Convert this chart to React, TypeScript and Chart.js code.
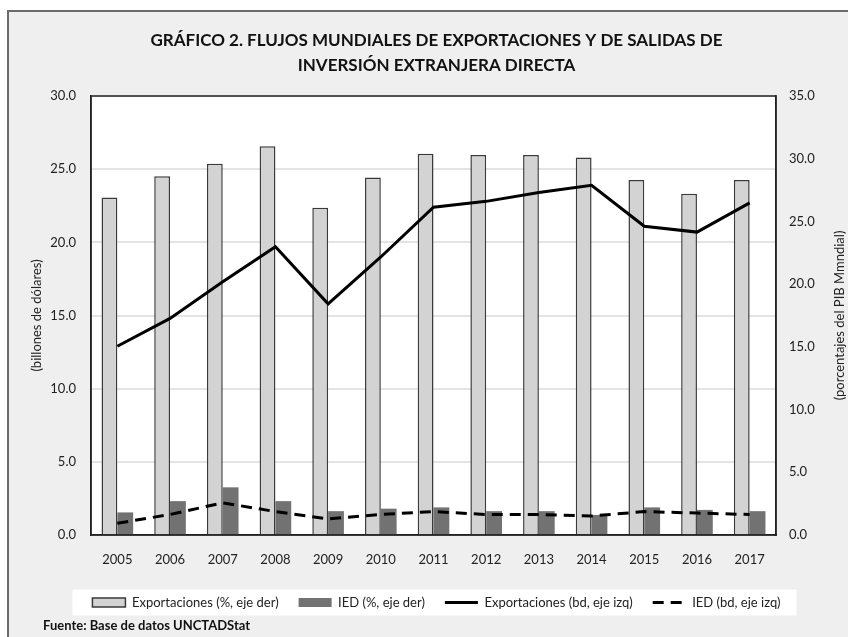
import React, { useEffect, useRef } from "react";
import { Chart, registerables } from "chart.js";

Chart.register(...registerables);

// ---- data ----
const years = ["2005", "2006", "2007", "2008", "2009", "2010", "2011", "2012", "2013", "2014", "2015", "2016", "2017"];
const exportPct = [26.9, 28.6, 29.6, 31.0, 26.1, 28.5, 30.4, 30.3, 30.3, 30.1, 28.3, 27.2, 28.3];
const fdiPct = [1.8, 2.7, 3.8, 2.7, 1.9, 2.1, 2.2, 1.9, 1.9, 1.6, 2.2, 2.0, 1.9];
const exportBn = [12.9, 14.8, 17.3, 19.7, 15.8, 19.0, 22.4, 22.8, 23.4, 23.9, 21.1, 20.7, 22.7];
const fdiBn = [0.8, 1.4, 2.2, 1.6, 1.1, 1.4, 1.6, 1.4, 1.4, 1.3, 1.6, 1.5, 1.4];

const leftMax = 30;
const rightMax = 35;
const tickStep = 5;

const seriesLabels = [
  "Exportaciones (%, eje der)",
  "IED (%, eje der)",
  "Exportaciones (bd, eje izq)",
  "IED (bd, eje izq)",
];
const titleLines = [
  "GRÁFICO 2. FLUJOS MUNDIALES DE EXPORTACIONES Y DE SALIDAS DE",
  "INVERSIÓN EXTRANJERA DIRECTA",
];
const leftTitle = "(billones de dólares)";
const rightTitle = "(porcentajes del PIB Mmndial)";
const sourceText = "Fuente: Base de datos UNCTADStat";

const FONT = "Lato, 'Open Sans', 'DejaVu Sans', sans-serif";
const TEXT = "#222";

export default function App() {
  const ref = useRef<HTMLCanvasElement>(null);

  useEffect(() => {
    if (!ref.current) return;

    const deco = {
      id: "deco",
      beforeDraw(chart: any) {
        const { ctx, chartArea } = chart;
        ctx.save();
        ctx.fillStyle = "#ffffff";
        ctx.fillRect(chartArea.left, chartArea.top, chartArea.right - chartArea.left, chartArea.bottom - chartArea.top);
        const boxes = chart.legend && chart.legend.legendHitBoxes;
        if (boxes && boxes.length) {
          const l = Math.min(...boxes.map((b: any) => b.left)) - 20;
          const r = Math.max(...boxes.map((b: any) => b.left + b.width)) + 16;
          const cy = boxes[0].top + boxes[0].height / 2;
          ctx.fillRect(l, cy - 13, r - l, 26);
        }
        ctx.restore();
      },
      afterDraw(chart: any) {
        const { ctx, chartArea, scales } = chart;
        ctx.save();
        ctx.strokeStyle = "#222";
        ctx.lineWidth = 1.5;
        ctx.strokeRect(chartArea.left, chartArea.top, chartArea.right - chartArea.left, chartArea.bottom - chartArea.top);
        ctx.restore();

        ctx.save();
        const y1 = scales.y1;
        ctx.translate(y1.right - 8, (chartArea.top + chartArea.bottom) / 2);
        ctx.rotate(-Math.PI / 2);
        ctx.font = `13px ${FONT}`;
        ctx.fillStyle = TEXT;
        ctx.textAlign = "center";
        ctx.textBaseline = "middle";
        ctx.fillText(rightTitle, 0, 0);
        ctx.restore();

        ctx.save();
        ctx.font = `bold 13px ${FONT}`;
        ctx.fillStyle = "#111";
        ctx.textAlign = "left";
        ctx.textBaseline = "middle";
        ctx.fillText(sourceText, 34, chart.height - 11);
        ctx.restore();
      },
    };

    const defaultGen = (Chart as any).defaults.plugins.legend.labels.generateLabels;

    const chart = new Chart(ref.current, {
      type: "bar",
      data: {
        labels: years,
        datasets: [
          {
            type: "bar",
            label: seriesLabels[0],
            data: exportPct,
            yAxisID: "y1",
            backgroundColor: "#d3d3d3",
            borderColor: "#3a3a3a",
            borderWidth: 1.5,
            categoryPercentage: 0.6,
            barPercentage: 1.0,
            pointStyle: "rect",
            order: 1,
          },
          {
            type: "bar",
            label: seriesLabels[1],
            data: fdiPct,
            yAxisID: "y1",
            backgroundColor: "#727272",
            borderColor: "#727272",
            borderWidth: 0,
            categoryPercentage: 0.6,
            barPercentage: 1.0,
            pointStyle: "rect",
            order: 1,
          },
          {
            type: "line",
            label: seriesLabels[2],
            data: exportBn,
            yAxisID: "y",
            borderColor: "#000",
            backgroundColor: "#000",
            borderWidth: 3,
            pointRadius: 0,
            pointStyle: "line",
            tension: 0,
            order: 0,
          },
          {
            type: "line",
            label: seriesLabels[3],
            data: fdiBn,
            yAxisID: "y",
            borderColor: "#000",
            backgroundColor: "#000",
            borderWidth: 3,
            borderDash: [11, 7],
            pointRadius: 0,
            pointStyle: "line",
            tension: 0,
            order: 0,
          },
        ] as any,
      },
      options: {
        animation: false,
        responsive: false,
        devicePixelRatio: 1,
        layout: { padding: { left: 16, right: 0, top: 0, bottom: 18 } },
        scales: {
          x: {
            grid: { display: false, drawTicks: false },
            border: { display: true, color: "#222", width: 1.5 },
            ticks: { padding: 17, color: TEXT, font: { family: FONT, size: 13 } },
            afterFit: (s: any) => {
              s.height = 41;
            },
          },
          y: {
            position: "left",
            min: 0,
            max: leftMax,
            ticks: {
              stepSize: tickStep,
              padding: 15,
              color: TEXT,
              font: { family: FONT, size: 13 },
              callback: (v: any) => Number(v).toFixed(1),
            },
            grid: { color: "#e4e4e4", lineWidth: 2, drawTicks: false },
            border: { display: true, color: "#222", width: 1.5 },
            title: { display: true, text: leftTitle, color: TEXT, font: { family: FONT, size: 13 } },
            afterFit: (s: any) => {
              s.width = 66;
            },
          },
          y1: {
            position: "right",
            min: 0,
            max: rightMax,
            ticks: {
              stepSize: tickStep,
              padding: 13,
              color: TEXT,
              font: { family: FONT, size: 13 },
              callback: (v: any) => Number(v).toFixed(1),
            },
            grid: { drawOnChartArea: false, drawTicks: false },
            border: { display: true, color: "#222", width: 1.5 },
            afterFit: (s: any) => {
              s.width = 72;
            },
          },
        } as any,
        plugins: {
          title: {
            display: true,
            text: titleLines,
            color: "#111",
            font: { family: FONT, size: 17, weight: "bold", lineHeight: 25 / 17 },
            padding: { top: 16.5, bottom: 17.5 },
          },
          legend: {
            position: "bottom",
            labels: {
              usePointStyle: true,
              pointStyleWidth: 33,
              boxHeight: 9,
              padding: 20,
              color: TEXT,
              font: { family: FONT, size: 13 },
              sort: (a: any, b: any) => a.datasetIndex - b.datasetIndex,
              generateLabels: (c: any) => {
                const items = defaultGen(c);
                return items.map((it: any) => {
                  const ds = c.data.datasets[it.datasetIndex];
                  if (ds.type === "line") {
                    it.lineWidth = ds.borderWidth;
                    it.lineDash = ds.borderDash || [];
                    it.strokeStyle = ds.borderColor;
                  }
                  return it;
                });
              },
            },
          },
          tooltip: { enabled: false },
        } as any,
      },
      plugins: [deco],
    });

    return () => chart.destroy();
  }, []);

  return (
    <div
      style={{
        position: "fixed",
        left: 7,
        top: 10,
        width: 860,
        height: 650,
        border: "2px solid #6b6b6b",
        background: "#efefef",
      }}
    >
      <canvas ref={ref} width={839} height={625} style={{ display: "block", width: 839, height: 625 }} />
    </div>
  );
}
